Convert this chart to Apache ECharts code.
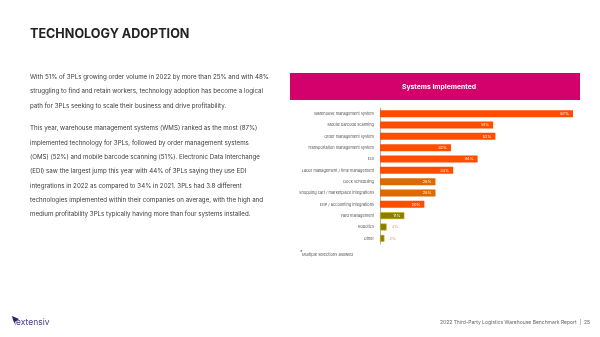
<!DOCTYPE html>
<html><head><meta charset="utf-8">
<script src="https://cdn.jsdelivr.net/npm/echarts@6/dist/echarts.min.js"></script>
<style>
html,body{margin:0;padding:0;background:#fff;}
#chart{position:absolute;left:0;top:0;width:600px;height:337px;}
</style></head>
<body><div id="chart"></div>
<script>
const categories = ["Warehouse management system","Mobile barcode scanning","Order management system","Transportation management system","EDI","Labor management / time management","Dock scheduling","Shopping cart / marketplace integrations","ERP / accounting integrations","Yard management","Robotics","Other"];
const values = [87,51,52,32,44,33,25,25,20,11,3,2];
const barColors = ["#ff4d00","#ff4d00","#ff4d00","#ff4d00","#ff4d00","#ff4d00","#dc6a00","#dc6a00","#ff4d00","#8a7d00","#8a7d00","#8a7d00"];
const para1 = ["With 51% of 3PLs growing order volume in 2022 by more than 25% and with 48%","struggling to find and retain workers, technology adoption has become a logical","path for 3PLs seeking to scale their business and drive profitability."];
const para2 = ["This year, warehouse management systems (WMS) ranked as the most (87%)","implemented technology for 3PLs, followed by order management systems","(OMS) (52%) and mobile barcode scanning (51%). Electronic Data Interchange","(EDI) saw the largest jump this year with 44% of 3PLs saying they use EDI","integrations in 2022 as compared to 34% in 2021. 3PLs had 3.8 different","technologies implemented within their companies on average, with the high and","medium profitability 3PLs typically having more than four systems installed."];

const chart = echarts.init(document.getElementById('chart'));
const graphic = [
  {type:'text',left:30,top:28,style:{text:'TECHNOLOGY ADOPTION',fontSize:12.6,fontWeight:'bold',fill:'#222',fontFamily:'Inter'}},
  {type:'rect',shape:{x:290,y:73,width:290,height:27},style:{fill:'#d4006c'}},
  {type:'text',x:439,y:86.5,style:{text:'Systems Implemented',fontSize:6.8,fontWeight:'bold',fill:'#fff',align:'center',verticalAlign:'middle',fontFamily:'Inter'}},
  {type:'text',x:300,y:250,style:{text:'*',fontSize:5,fill:'#555',fontFamily:'Inter'}},
  {type:'text',x:302,y:253,style:{text:'Multiple selections allowed',fontSize:4,fill:'#555',fontFamily:'Inter'}},
  {type:'text',x:590,y:322,style:{text:'2022 Third-Party Logistics Warehouse Benchmark Report  |  25',fontSize:5,fill:'#666',align:'right',verticalAlign:'middle',fontFamily:'Inter'}},
  {type:'polygon',shape:{points:[[12,316],[19,319],[15,322],[16,326],[13,320]]},style:{fill:'#3a1d6e'}},
  {type:'text',x:16,y:322.5,style:{text:'extensiv',fontSize:8.5,fill:'#4a3a8a',verticalAlign:'middle',fontFamily:'Inter'}}
];
para1.forEach((s,i)=>graphic.push({type:'text',x:30,y:77+i*14.5,style:{text:s,fontSize:6.2,fill:'#3a3a3a',verticalAlign:'middle',fontFamily:'Inter'}}));
para2.forEach((s,i)=>graphic.push({type:'text',x:30,y:128.5+i*14.3,style:{text:s,fontSize:6.2,fill:'#3a3a3a',verticalAlign:'middle',fontFamily:'Inter'}}));

chart.setOption({
  animation:false,
  grid:{left:380,right:27,top:108,bottom:93,containLabel:false},
  xAxis:{type:'value',min:0,max:87,show:false},
  yAxis:{type:'category',data:categories,inverse:true,
    axisLine:{show:true,lineStyle:{color:'#999',width:0.8}},axisTick:{show:false},
    axisLabel:{fontSize:3.9,color:'#555',margin:6,fontFamily:'Inter'}},
  series:[{type:'bar',barWidth:7,
    data:values.map((v,i)=>({value:v,itemStyle:{color:barColors[i],borderColor:(i>=9?'#c9b800':null),borderWidth:(i>=9?0.6:0)},
      label:(v<5?{position:'right',color:'#e88a60',distance:5}:{})})),
    label:{show:true,position:'insideRight',formatter:'{c}%',fontSize:4,color:'#fff',distance:4,fontFamily:'Inter'}
  }],
  graphic:graphic
});
</script></body></html>
